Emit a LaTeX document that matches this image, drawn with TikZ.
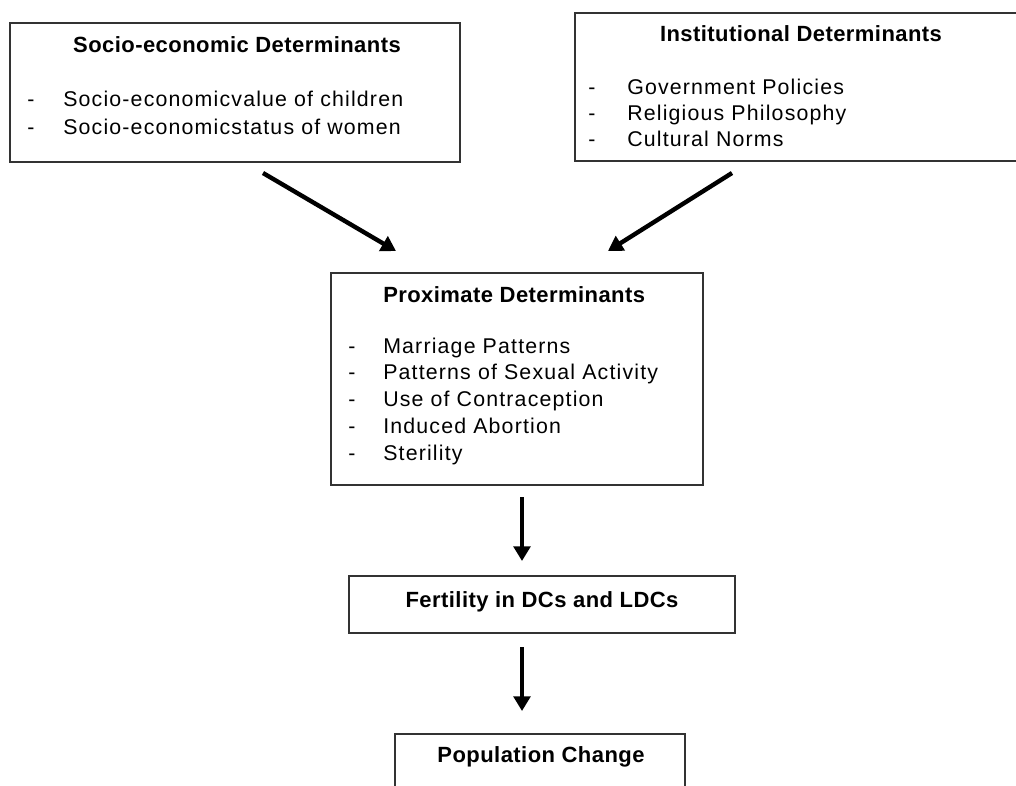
\documentclass[tikz,border=0pt]{standalone}
\usepackage{fontspec}
\setmainfont{Liberation Sans}
\newfontfamily\titlefont[LetterSpace=2]{Liberation Sans}
\newfontfamily\bodyfont[LetterSpace=5.5]{Liberation Sans}
\usetikzlibrary{fit,arrows.meta}
\tikzset{
  boxnode/.style={draw=black!80, line width=1.3pt, inner sep=0pt},
  ttl/.style={anchor=base, inner sep=0pt, font=\titlefont\fontsize{16.5}{20}\selectfont\bfseries},
  itm/.style={anchor=base west, inner sep=0pt, font=\bodyfont\fontsize{16}{19}\selectfont},
  dsh/.style={anchor=base west, inner sep=0pt, font=\bodyfont\fontsize{16}{19}\selectfont},
  bigarrow/.style={line width=3.3pt, -{Triangle[length=11pt,width=12.5pt]}}
}
\begin{document}
\begin{tikzpicture}[x=0.75pt,y=-0.75pt]
\useasboundingbox (0,0) rectangle (1016,785);
\fill[white] (0,0) rectangle (1016,785);
\clip (0,0) rectangle (1016,785);
% boxes
\node[boxnode, fit={(10,23) (460,162)}] (b1) {};
\node[boxnode, fit={(575,13) (1029,161)}] (b2) {};
\node[boxnode, fit={(331,273) (703,485)}] (b3) {};
\node[boxnode, fit={(349,576) (735,633)}] (b4) {};
\node[boxnode, fit={(395,734) (685,830)}] (b5) {};
% box 1 text
\node[ttl] (t1) at (237,52) {Socio-economic Determinants};
\node[dsh] (d11) at (27,106) {-};
\node[itm] (i11) at (63,106) {Socio-economicvalue of children};
\node[dsh] (d12) at (27,134) {-};
\node[itm] (i12) at (63,134) {Socio-economicstatus of women};
% box 2 text
\node[ttl] (t2) at (801,41) {Institutional Determinants};
\node[dsh] (d21) at (588,94) {-};
\node[itm] (i21) at (627,94) {Government Policies};
\node[dsh] (d22) at (588,120) {-};
\node[itm] (i22) at (627,120) {Religious Philosophy};
\node[dsh] (d23) at (588,146) {-};
\node[itm] (i23) at (627,146) {Cultural Norms};
% box 3 text
\node[anchor=base west, inner sep=0pt, font=\titlefont\fontsize{16.5}{20}\selectfont\bfseries] (t3) at (383,302) {Proximate Determinants};
\node[dsh] (d31) at (348,353) {-};
\node[itm] (i31) at (383,353) {Marriage Patterns};
\node[dsh] (d32) at (348,379) {-};
\node[itm] (i32) at (383,379) {Patterns of Sexual Activity};
\node[dsh] (d33) at (348,406) {-};
\node[itm] (i33) at (383,406) {Use of Contraception};
\node[dsh] (d34) at (348,433) {-};
\node[itm] (i34) at (383,433) {Induced Abortion};
\node[dsh] (d35) at (348,460) {-};
\node[itm] (i35) at (383,460) {Sterility};
% box 4 and 5 text
\node[ttl] (t4) at (542,607) {Fertility in DCs and LDCs};
\node[ttl] (t5) at (541,762) {Population Change};
% arrow end points
\coordinate (a1s) at (263,173);
\coordinate (a1e) at (396,251);
\coordinate (a2s) at (732,173);
\coordinate (a2e) at (608,251);
\coordinate (a3s) at (522,497);
\coordinate (a3e) at (522,561);
\coordinate (a4s) at (522,647);
\coordinate (a4e) at (522,711);
\draw[bigarrow] (a1s) -- (a1e);
\draw[bigarrow] (a2s) -- (a2e);
\draw[bigarrow] (a3s) -- (a3e);
\draw[bigarrow] (a4s) -- (a4e);
\end{tikzpicture}
\end{document}
